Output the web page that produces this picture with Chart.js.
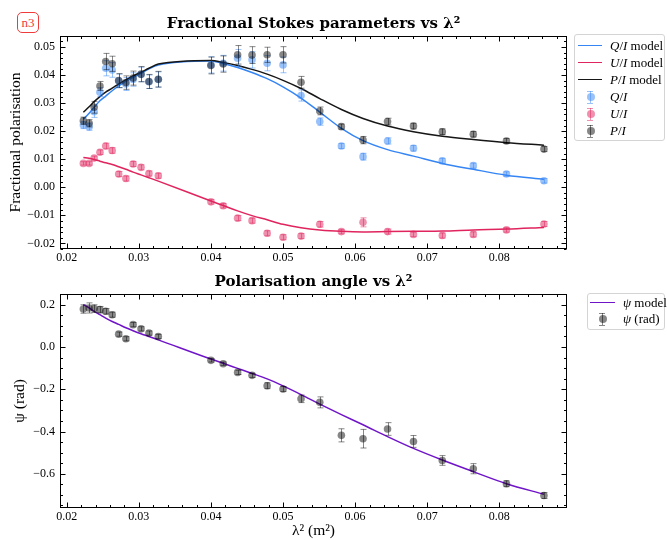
<!DOCTYPE html>
<html>
<head>
<meta charset="utf-8">
<title>Stokes parameters vs lambda squared</title>
<script src="https://cdn.jsdelivr.net/npm/chart.js@4.4.1/dist/chart.umd.min.js"></script>
<style>
    body { margin: 0; background: #fff; }
    #page { position: relative; width: 667px; height: 540px; font-family: "Liberation Serif", serif; }
    #page canvas { position: absolute; left: 0; }
    #stokes-chart { top: 0; }
    #angle-chart { top: 270px; }
    .badge {
        position: absolute; left: 17px; top: 12px; width: 20px; height: 19px;
        border: 1.5px solid #ee3b3b; border-radius: 5px;
        color: #ee3b3b; font-size: 13px; line-height: 19px; text-align: center;
    }
    .legend {
        position: absolute; box-sizing: border-box;
        border: 1px solid #d4d4d4; border-radius: 3px; background: #fff;
    }
    .legend .row { position: relative; }
    .legend .swatch { position: absolute; height: 0; }
    .legend .dot { position: absolute; width: 8px; height: 8px; border-radius: 50%; }
    .legend .bar { position: absolute; width: 1px; }
    .legend .cap { position: absolute; width: 6px; height: 1px; }
    .legend .txt { position: absolute; font-size: 13px; white-space: nowrap; color: #000; }
</style>
</head>
<body>
<div id="page">
    <div class="badge">n3</div>
    <canvas id="stokes-chart" width="667" height="270"></canvas>
    <canvas id="angle-chart" width="667" height="270"></canvas>
    <div class="legend" id="legend-stokes" style="left:574px; top:34px; width:91px; height:107px; padding-top:2px;"></div>
    <div class="legend" id="legend-angle" style="left:587px; top:293px; width:78px; height:37px; padding-top:1px;"></div>
</div>

<script>
// ── Data ───────────────────────────────────────────────
const lambda2 = [0.0223, 0.0231, 0.0238, 0.0246, 0.0254, 0.0263, 0.0272, 0.0282, 0.0292, 0.0303,
                 0.0314, 0.0327, 0.0400, 0.0417, 0.0437, 0.0457, 0.0478, 0.0500, 0.0525, 0.0551,
                 0.0581, 0.0611, 0.0645, 0.0681, 0.0721, 0.0764, 0.0810, 0.0862];

const qFrac = [0.0222, 0.0216, 0.0269, 0.0339, 0.0424, 0.0418, 0.0379, 0.0368, 0.0384, 0.0402,
               0.0376, 0.0384, 0.0436, 0.0442, 0.0460, 0.0454, 0.0442, 0.0436, 0.0327, 0.0234,
               0.0147, 0.0109, 0.0165, 0.0139, 0.0094, 0.0077, 0.0047, 0.0023];
const uFrac = [0.0085, 0.0085, 0.0104, 0.0125, 0.0147, 0.0131, 0.0047, 0.0031, 0.0083, 0.0071,
               0.0049, 0.0041, -0.0052, -0.0066, -0.0110, -0.0119, -0.0164, -0.0178, -0.0174, -0.0132,
               -0.0158, -0.0125, -0.0158, -0.0168, -0.0172, -0.0168, -0.0152, -0.0131];
const pFrac = [0.0237, 0.0228, 0.0285, 0.0361, 0.0448, 0.0440, 0.0380, 0.0373, 0.0389, 0.0403,
               0.0377, 0.0385, 0.0434, 0.0439, 0.0472, 0.0471, 0.0472, 0.0472, 0.0374, 0.0272,
               0.0216, 0.0168, 0.0234, 0.0218, 0.0198, 0.0189, 0.0165, 0.0136];

const qErr = [0.0013, 0.0013, 0.0020, 0.0016, 0.0027, 0.0026, 0.0024, 0.0023, 0.0024, 0.0026,
              0.0024, 0.0027, 0.0029, 0.0028, 0.0031, 0.0029, 0.0027, 0.0028, 0.0020, 0.0013,
              0.0009, 0.0012, 0.0011, 0.0010, 0.0009, 0.0009, 0.0008, 0.0008];
const uErr = [0.0006, 0.0006, 0.0007, 0.0008, 0.0010, 0.0010, 0.0009, 0.0009, 0.0009, 0.0009,
              0.0009, 0.0009, 0.0008, 0.0008, 0.0009, 0.0009, 0.0009, 0.0009, 0.0009, 0.0010,
              0.0008, 0.0016, 0.0009, 0.0008, 0.0009, 0.0009, 0.0008, 0.0009];
const pErr = [0.0013, 0.0013, 0.0021, 0.0016, 0.0029, 0.0027, 0.0025, 0.0024, 0.0025, 0.0027,
              0.0025, 0.0028, 0.0030, 0.0029, 0.0033, 0.0030, 0.0027, 0.0029, 0.0021, 0.0014,
              0.0009, 0.0013, 0.0012, 0.0010, 0.0010, 0.0010, 0.0009, 0.0009];

const qModel = [0.0242, 0.0264, 0.0285, 0.0308, 0.0325, 0.0344, 0.0361, 0.0377, 0.0392, 0.0406,
                0.0422, 0.0436, 0.0450, 0.0441, 0.0427, 0.0409, 0.0387, 0.0358, 0.0318, 0.0268,
                0.0210, 0.0166, 0.0134, 0.0111, 0.0085, 0.0064, 0.0043, 0.0028];
const uModel = [0.0106, 0.0103, 0.0099, 0.0093, 0.0087, 0.0081, 0.0073, 0.0064, 0.0054, 0.0044,
                0.0034, 0.0022, -0.0049, -0.0065, -0.0084, -0.0101, -0.0116, -0.0132, -0.0144, -0.0152,
                -0.0157, -0.0159, -0.0158, -0.0157, -0.0156, -0.0152, -0.0149, -0.0143];
const pModel = [0.0267, 0.0287, 0.0305, 0.0323, 0.0339, 0.0353, 0.0368, 0.0383, 0.0397, 0.0410,
                0.0424, 0.0439, 0.0452, 0.0445, 0.0434, 0.0420, 0.0403, 0.0381, 0.0352, 0.0316,
                0.0277, 0.0245, 0.0218, 0.0198, 0.0182, 0.0170, 0.0159, 0.0150];

const psi = [0.180, 0.185, 0.182, 0.177, 0.169, 0.153, 0.061, 0.039, 0.106, 0.086,
             0.066, 0.050, -0.063, -0.079, -0.120, -0.134, -0.183, -0.199, -0.245, -0.262,
             -0.418, -0.434, -0.388, -0.447, -0.537, -0.576, -0.647, -0.703];
const psiErr = [0.020, 0.024, 0.018, 0.015, 0.013, 0.012, 0.010, 0.010, 0.010, 0.010,
                0.010, 0.010, 0.008, 0.008, 0.010, 0.010, 0.014, 0.012, 0.018, 0.026,
                0.031, 0.044, 0.030, 0.028, 0.023, 0.024, 0.014, 0.014];
const psiModel = [0.201, 0.185, 0.169, 0.153, 0.137, 0.121, 0.107, 0.091, 0.077, 0.063,
                  0.050, 0.034, -0.057, -0.077, -0.101, -0.125, -0.151, -0.184, -0.225, -0.270,
                  -0.320, -0.368, -0.424, -0.480, -0.535, -0.590, -0.647, -0.697];

const xTicks = [0.02, 0.03, 0.04, 0.05, 0.06, 0.07, 0.08];
const fracTicks = [-0.02, -0.01, 0.00, 0.01, 0.02, 0.03, 0.04, 0.05];
const psiTicks = [-0.6, -0.4, -0.2, 0.0, 0.2];

// ── Colours ────────────────────────────────────────────
const BLUE = '#3585f5', BLUE_PT = 'rgba(53,133,245,0.5)';
const PINK = '#e0245e', PINK_PT = 'rgba(224,36,94,0.5)';
const BLACK = '#161616', GREY_PT = 'rgba(0,0,0,0.47)';
const PURPLE = '#7014c8';

Chart.defaults.font.family = '"Liberation Serif", "DejaVu Serif", serif';
Chart.defaults.color = '#000';

// ── Helpers ────────────────────────────────────────────
const pts = ys => lambda2.map((x, i) => ({ x, y: ys[i] }));
const fmt = (v, d) => v.toFixed(d).replace('-', '\u2212');

function dataSet(label, ys, errs, color) {
    return { type: 'scatter', label, data: pts(ys), errors: errs,
             backgroundColor: color, borderWidth: 0, pointRadius: 3.8, pointHoverRadius: 3.8 };
}
function modelSet(label, ys, color) {
    return { type: 'line', label, data: pts(ys), borderColor: color, borderWidth: 1.5,
             pointRadius: 0, fill: false, cubicInterpolationMode: 'monotone' };
}

// error bars are drawn just before their points
const errorBars = {
    id: 'errorBars',
    beforeDatasetDraw(chart, args) {
        const ds = chart.data.datasets[args.index];
        if (!ds.errors) return;
        const { ctx, scales: { x, y } } = chart;
        ctx.save();
        ctx.strokeStyle = ds.backgroundColor;
        ctx.lineWidth = 1;
        ctx.beginPath();
        ds.data.forEach((p, i) => {
            const px = Math.round(x.getPixelForValue(p.x)) + 0.5;
            const y1 = y.getPixelForValue(p.y - ds.errors[i]);
            const y2 = y.getPixelForValue(p.y + ds.errors[i]);
            ctx.moveTo(px, y1); ctx.lineTo(px, y2);
            ctx.moveTo(px - 3, y1); ctx.lineTo(px + 3, y1);
            ctx.moveTo(px - 3, y2); ctx.lineTo(px + 3, y2);
        });
        ctx.stroke();
        ctx.restore();
    }
};

// box round the plot with inward major and minor ticks on all four sides
const frame = {
    id: 'frame',
    afterDraw(chart, args, o) {
        const { ctx, chartArea: a, scales: { x, y } } = chart;
        const L = Math.round(a.left) + 0.5, R = Math.round(a.right) - 0.5;
        const T = Math.round(a.top) + 0.5, B = Math.round(a.bottom) - 0.5;
        ctx.save();
        ctx.strokeStyle = '#000';
        ctx.lineWidth = 1;
        ctx.strokeRect(L, T, R - L, B - T);
        ctx.beginPath();
        const marks = (scale, step, ratio, draw) => {
            const k0 = Math.ceil(scale.min / step - 1e-6), k1 = Math.floor(scale.max / step + 1e-6);
            for (let k = k0; k <= k1; k++) {
                draw(Math.round(scale.getPixelForValue(k * step)) + 0.5, k % ratio === 0 ? 5 : 2.5);
            }
        };
        marks(x, o.xStep, o.xRatio, (p, len) => {
            ctx.moveTo(p, B); ctx.lineTo(p, B - len);
            ctx.moveTo(p, T); ctx.lineTo(p, T + len);
        });
        marks(y, o.yStep, o.yRatio, (p, len) => {
            ctx.moveTo(L, p); ctx.lineTo(L + len, p);
            ctx.moveTo(R, p); ctx.lineTo(R - len, p);
        });
        ctx.stroke();
        ctx.restore();
    }
};

function xScale(axisHeight, title) {
    return {
        type: 'linear', min: 0.01906, max: 0.0894,
        afterBuildTicks: s => { s.ticks = xTicks.map(v => ({ value: v })); },
        afterFit: s => { s.height = axisHeight; },
        grid: { display: false, drawTicks: false },
        border: { display: false },
        ticks: { padding: 2, font: { size: 12 }, maxRotation: 0, autoSkip: false,
                 callback: v => fmt(v, 2) },
        title: title ? { display: true, text: title, font: { size: 15.5 }, padding: { top: 0, bottom: 0 } }
                     : { display: false }
    };
}

function yScale(min, max, ticks, digits, title, titlePad) {
    return {
        type: 'linear', min, max,
        afterBuildTicks: s => { s.ticks = ticks.map(v => ({ value: v })); },
        afterFit: s => { s.width = 60; },
        grid: { display: false, drawTicks: false },
        border: { display: false },
        ticks: { padding: 5, font: { size: 12 }, callback: v => fmt(v, digits) },
        title: { display: true, text: title, font: { size: 15.5 }, padding: { top: titlePad, bottom: 0 } }
    };
}

function baseOptions(titleText, titlePad) {
    return {
        responsive: false, animation: false, devicePixelRatio: 1,
        layout: { padding: { left: 0, right: 100, top: 0, bottom: 0 } },
        plugins: {
            legend: { display: false },
            tooltip: { enabled: false },
            title: { display: true, text: titleText, fullSize: false,
                     font: { family: '"DejaVu Serif", serif', size: 15, weight: 'bold' },
                     padding: titlePad }
        }
    };
}

// ── Top panel: fractional Stokes parameters ────────────
const stokesOptions = baseOptions('Fractional Stokes parameters vs \u03bb\u00b2', { top: 15.5, bottom: 2.5 });
stokesOptions.scales = {
    x: xScale(21),
    y: yScale(-0.0220, 0.0539, fracTicks, 2, 'Fractional polarisation', 6.5)
};
stokesOptions.plugins.frame = { xStep: 0.002, xRatio: 5, yStep: 0.002, yRatio: 5 };

new Chart(document.getElementById('stokes-chart'), {
    type: 'scatter',
    data: { datasets: [
        dataSet('P/I', pFrac, pErr, GREY_PT),
        dataSet('U/I', uFrac, uErr, PINK_PT),
        dataSet('Q/I', qFrac, qErr, BLUE_PT),
        modelSet('P/I model', pModel, BLACK),
        modelSet('U/I model', uModel, PINK),
        modelSet('Q/I model', qModel, BLUE)
    ]},
    options: stokesOptions,
    plugins: [errorBars, frame]
});

// ── Bottom panel: polarisation angle ───────────────────
const angleOptions = baseOptions('Polarisation angle vs \u03bb\u00b2', { top: 3.5, bottom: 2.5 });
angleOptions.scales = {
    x: xScale(32, '\u03bb\u00b2 (m\u00b2)'),
    y: yScale(-0.762, 0.251, psiTicks, 1, '\u03c8 (rad)', 11)
};
angleOptions.plugins.frame = { xStep: 0.002, xRatio: 5, yStep: 0.05, yRatio: 4 };

new Chart(document.getElementById('angle-chart'), {
    type: 'scatter',
    data: { datasets: [
        dataSet('\u03c8 (rad)', psi, psiErr, GREY_PT),
        modelSet('\u03c8 model', psiModel, PURPLE)
    ]},
    options: angleOptions,
    plugins: [errorBars, frame]
});

// ── Legends ────────────────────────────────────────────
const stokesLegend = [
    { kind: 'line', color: BLUE, html: '<i>Q</i>/<i>I</i> model' },
    { kind: 'line', color: PINK, html: '<i>U</i>/<i>I</i> model' },
    { kind: 'line', color: BLACK, html: '<i>P</i>/<i>I</i> model' },
    { kind: 'point', color: BLUE_PT, html: '<i>Q</i>/<i>I</i>' },
    { kind: 'point', color: PINK_PT, html: '<i>U</i>/<i>I</i>' },
    { kind: 'point', color: GREY_PT, html: '<i>P</i>/<i>I</i>' }
];
const angleLegend = [
    { kind: 'line', color: PURPLE, html: '<i>\u03c8</i> model' },
    { kind: 'point', color: GREY_PT, html: '<i>\u03c8</i> (rad)' }
];

function buildLegend(id, items, g) {
    const box = document.getElementById(id);
    box.innerHTML = items.map(it => {
        const mid = g.rowH / 2;
        const mark = it.kind === 'line'
            ? `<span class="swatch" style="left:${g.lineX}px; width:${g.lineW}px; top:${mid - 0.75}px; border-top:1.5px solid ${it.color};"></span>`
            : `<span class="bar" style="left:${g.dotX}px; top:${mid - 6}px; height:12px; background:${it.color};"></span>
               <span class="cap" style="left:${g.dotX - 3}px; top:${mid - 6}px; background:${it.color};"></span>
               <span class="cap" style="left:${g.dotX - 3}px; top:${mid + 6}px; background:${it.color};"></span>
               <span class="dot" style="left:${g.dotX - 3.5}px; top:${mid - 4}px; background:${it.color};"></span>`;
        return `<div class="row" style="height:${g.rowH}px">${mark}
                <span class="txt" style="left:${g.textX}px; top:0; line-height:${g.rowH}px;">${it.html}</span></div>`;
    }).join('');
}

buildLegend('legend-stokes', stokesLegend, { rowH: 17, lineX: 3, lineW: 24, dotX: 15, textX: 35 });
buildLegend('legend-angle', angleLegend, { rowH: 16, lineX: 2, lineW: 25, dotX: 14, textX: 35 });
</script>
</body>
</html>
